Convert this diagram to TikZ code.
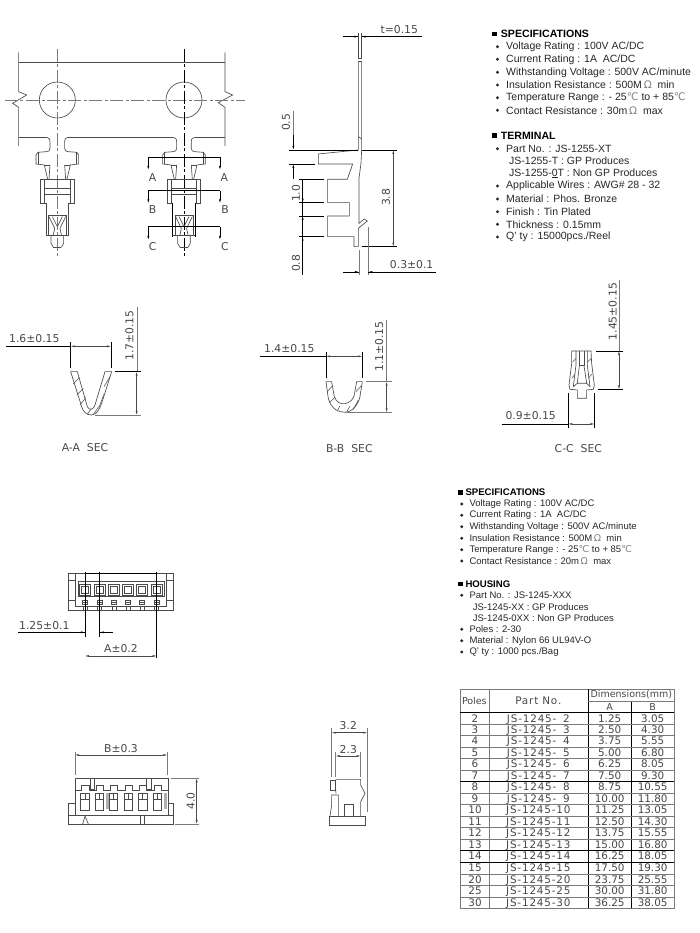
\documentclass[tikz,border=0pt]{standalone}
\usepackage{fontspec}
\setmainfont{Liberation Sans}
\newfontfamily\cadfont{DejaVu Sans}
\newfontfamily\cadwide[LetterSpace=8]{DejaVu Sans}
\usepackage{tikz}
\usetikzlibrary{arrows.meta}

\definecolor{ink}{HTML}{262626}
\definecolor{partgray}{HTML}{4A4A4A}
\definecolor{dimgray}{HTML}{7A7A7A}
\newcommand{\degc}{\textcolor{gray}{{\cadfont ℃}}}
\newcommand{\ohm}{\textcolor{gray}{{\cadfont Ω}}}

\tikzset{
    part/.style={draw=partgray, line width=0.65pt},
    thinpart/.style={draw=partgray, line width=0.5pt},
    blackline/.style={draw=black, line width=0.65pt},
    extline/.style={draw=dimgray, line width=0.55pt},
    dimline/.style={draw=partgray, line width=0.45pt, {Latex[length=4pt,width=2pt]}-{Latex[length=4pt,width=2pt]}},
    tipline/.style={draw=black, line width=0.6pt, -{Latex[length=4pt,width=2pt]}},
    centerline/.style={line width=0.7pt, dash pattern=on 13pt off 2.5pt on 3pt off 2.5pt},
    dimlabel/.style={inner sep=0pt, text=ink!85, font=\cadfont\fontsize{10.8}{11}\selectfont},
    spechead/.style={anchor=west, inner sep=0pt, text=black, font=\bfseries\fontsize{10.6}{12}\selectfont},
    specitem/.style={anchor=west, inner sep=0pt, text=ink, font=\fontsize{10.5}{12}\selectfont},
    househead/.style={anchor=west, inner sep=0pt, text=black, font=\bfseries\fontsize{9.6}{11}\selectfont},
    houseitem/.style={anchor=west, inner sep=0pt, text=ink, font=\fontsize{9.5}{11}\selectfont},
    bulletmark/.style={circle, fill=ink, inner sep=0pt, minimum size=3.2pt},
    headmark/.style={rectangle, fill=black, inner sep=0pt, minimum width=5.2pt, minimum height=4.6pt},
    cell/.style={inner sep=0pt, text height=7.6pt, text depth=0pt, text=ink!85, font=\cadfont\fontsize{10.4}{11}\selectfont},
    partcell/.style={inner sep=0pt, text height=7.6pt, text depth=0pt, text=ink!85, font=\cadwide\fontsize{10.4}{11}\selectfont},
    headcell/.style={inner sep=0pt, text=ink!85, font=\cadfont\fontsize{9.5}{10}\selectfont},
    tabline/.style={draw=dimgray, line width=0.6pt},
    tabbold/.style={draw=black, line width=0.7pt}
}

\begin{document}
\begin{tikzpicture}[x=1pt, y=-1pt]
    \useasboundingbox (0,0) rectangle (700,933);

    % carrier strip with the two terminals
    \begin{scope}[shift={(0,20)}, scale=0.3333]
        \draw[part] (56,97) -- (56,215) -- (80,225) -- (38,250) -- (56,262) -- (56,378);
        \draw[part] (675,97) -- (675,215) -- (698,225) -- (655,248) -- (675,262) -- (675,378);
        \draw[part] (56,126) -- (675,126);
        \draw[part] (56,352) -- (140,352);
        \draw[part] (204,352) -- (520,352);
        \draw[part] (584,352) -- (675,352);
        \draw[part] (172,240) circle (54);
        \draw[part] (552,240) circle (54);
        \draw[centerline, draw=dimgray] (15,240) -- (735,240);
        \draw[centerline, draw=dimgray] (172,87) -- (172,710);
        \draw[centerline, draw=black] (553,87) -- (553,710);

        \foreach \cx in {172,552} {
            \begin{scope}[shift={(\cx,0)}]
                \foreach \sx in {-1,1} {
                    \begin{scope}[xscale=\sx]
                        \draw[part] (32,352) .. controls (24,352) and (22,358) .. (22,368) -- (22,385) .. controls (22,392) and (26,395) .. (32,395) -- (58,397) -- (64,405) -- (64,432) -- (39,435) -- (29,478);
                        \draw[part] (58,397) -- (58,432);
                        \draw[part] (22,435) -- (25,478);
                        \draw[part] (39,435) -- (22,435);
                        \draw[part] (50,478) -- (50,550) -- (34,550) -- (34,645);
                        \draw[part] (27,585) -- (27,645);
                        \draw[part] (38,478) -- (38,550);
                        \draw[part] (25,590) -- (8,625) -- (12,645);
                        \draw[part] (15,590) -- (0,620);
                        \draw[part] (19,645) -- (19,670) -- (12,682);
                    \end{scope}
                }
                \draw[part] (-50,478) -- (50,478);
                \draw[part] (-50,550) -- (-38,550);
                \draw[part] (38,550) -- (50,550);
                \draw[part] (-38,505) -- (38,505);
                \draw[part] (-38,522) -- (38,522);
                \draw[part] (-27,585) -- (27,585);
                \draw[part] (-34,645) -- (34,645);
                \draw[part] (-12,682) -- (12,682);
            \end{scope}
        }

        % section cuts
        \draw[blackline] (445,412) -- (660,412);
        \draw[blackline] (445,512) -- (660,512);
        \draw[blackline] (445,620) -- (660,620);
        \draw[blackline] (518,550) -- (518,650);
        \draw[blackline] (586,550) -- (586,650);
        \draw[tipline] (445,412) -- (445,450);
        \draw[tipline] (660,412) -- (660,450);
        \draw[tipline] (445,512) -- (445,550);
        \draw[tipline] (660,512) -- (660,550);
        \draw[tipline] (445,620) -- (445,660);
        \draw[tipline] (660,620) -- (660,660);
        \node[dimlabel] (cutal) at (458,472) {A};
        \node[dimlabel] (cutar) at (673,472) {A};
        \node[dimlabel] (cutbl) at (458,570) {B};
        \node[dimlabel] (cutbr) at (675,570) {B};
        \node[dimlabel] (cutcl) at (458,680) {C};
        \node[dimlabel] (cutcr) at (675,680) {C};
    \end{scope}

    % side view of the terminal
    \begin{scope}[shift={(260,15)}, scale=0.3333]
        \draw[part] (295,55) -- (295,130);
        \draw[part] (305,55) -- (305,130);
        \draw[part] (295,130) -- (305,130);
        \draw[part] (295,140) -- (305,140);
        \draw[part] (295,140) -- (295,405) -- (175,417) -- (175,447) -- (278,447) -- (262,493) -- (203,493) -- (203,563) -- (268,563) -- (268,603) -- (203,603) -- (203,665) -- (282,665) -- (282,695) -- (295,695) -- (295,640) -- (322,618) -- (313,612) -- (297,625) -- (297,490) -- (303,445) -- (305,405) -- (305,140);
        \draw[part] (295,365) -- (305,372);

        \draw[blackline] (248,65) -- (295,65);
        \draw[blackline] (305,65) -- (485,65);
        \draw[tipline] (250,65) -- (295,65);
        \draw[tipline] (350,65) -- (305,65);
        \node[dimlabel] (tlabel) at (418,43) {t=0.15};

        \draw[blackline] (88,405) -- (295,405);
        \draw[blackline] (88,447) -- (165,447);
        \draw[extline] (100,288) -- (100,360);
        \draw[tipline] (100,360) -- (100,405);
        \draw[tipline] (100,492) -- (100,447);
        \node[dimlabel, rotate=90] (halflabel) at (78,322) {0.5};

        \draw[blackline] (118,493) -- (192,493);
        \draw[blackline] (118,563) -- (192,563);
        \draw[blackline] (118,603) -- (192,603);
        \draw[blackline] (118,665) -- (192,665);
        \draw[blackline] (128,493) -- (128,780);
        \draw[tipline] (128,535) -- (128,563);
        \draw[tipline] (128,635) -- (128,603);
        \draw[tipline] (128,710) -- (128,665);
        \node[dimlabel, rotate=90] (onelabel) at (108,535) {1.0};
        \node[dimlabel, rotate=90] (eightlabel) at (108,745) {0.8};

        \draw[blackline] (305,405) -- (412,405);
        \draw[blackline] (305,695) -- (412,695);
        \draw[dimline] (400,405) -- (400,695);
        \node[dimlabel, rotate=90] (highlabel) at (378,547) {3.8};

        \draw[extline] (297,705) -- (297,780);
        \draw[extline] (325,635) -- (325,780);
        \draw[blackline] (250,771) -- (297,771);
        \draw[blackline] (325,771) -- (527,771);
        \draw[tipline] (255,771) -- (297,771);
        \draw[tipline] (368,771) -- (325,771);
        \node[dimlabel] (gaplabel) at (455,750) {0.3±0.1};
    \end{scope}

    % terminal text
    \node[headmark] (h1mark) at (494.5,34) {};
    \node[spechead] (h1) at (500.7,34) {SPECIFICATIONS};
    \foreach \k/\ty/\txt in {1/46.7/{Voltage Rating : 100V AC/DC}, 2/59.3/{Current Rating : 1A\ \ AC/DC}, 3/72.3/{Withstanding Voltage : 500V AC/minute}, 4/85/{Insulation Resistance : 500M\,\ohm\ \ min}, 5/97.7/{Temperature Range : - 25\degc\ to + 85\degc}, 6/110.3/{Contact Resistance : 30m\,\ohm\ \ max}} {
        \node[bulletmark] (ab\k) at (497.5,\ty) {};
        \node[specitem] (at\k) at (506,\ty) {\txt};
    }
    \node[headmark] (h2mark) at (494.5,135.7) {};
    \node[spechead] (h2) at (500.7,135.7) {TERMINAL};
    \foreach \k/\ty/\txt in {1/148.7/{Part No. : JS-1255-XT}, 4/186/{Applicable Wires : AWG\# 28 - 32}, 5/199/{Material : Phos. Bronze}, 6/211.7/{Finish : Tin Plated}, 7/224.3/{Thickness : 0.15mm}, 8/237/{Q' ty : 15000pcs./Reel}} {
        \node[bulletmark] (bb\k) at (497.5,\ty) {};
        \node[specitem] (bt\k) at (506,\ty) {\txt};
    }
    \node[specitem] (bt2) at (509,161) {JS-1255-T : GP Produces};
    \node[specitem] (bt3) at (509,173.3) {JS-1255-\underline{0}T : Non GP Produces};

    % A-A section
    \begin{scope}[shift={(0,280)}, scale=0.3333]
        \draw[part] (212,275) -- (245,380) .. controls (250,398) and (262,405) .. (275,405) .. controls (290,405) and (300,385) .. (305,370) -- (335,275) -- (315,275) -- (285,375) .. controls (280,390) and (268,392) .. (262,380) -- (232,275) -- cycle;
        \draw[thinpart] (220,312) -- (238,292);
        \draw[thinpart] (230,345) -- (250,325);
        \draw[thinpart] (240,375) -- (258,352);
        \draw[thinpart] (262,403) -- (272,388);
        \draw[thinpart] (280,404) -- (296,380);
        \draw[thinpart] (296,385) -- (312,342);
        \draw[thinpart] (312,320) -- (330,290);
        \draw[blackline] (212,187) -- (212,263);
        \draw[blackline] (333,187) -- (333,263);
        \draw[blackline] (18,199) -- (212,199);
        \draw[dimline] (212,199) -- (333,199);
        \node[dimlabel] (aawide) at (103,177) {1.6±0.15};
        \draw[extline] (412,80) -- (412,275);
        \draw[blackline] (345,275) -- (422,275);
        \draw[extline] (285,405) -- (422,405);
        \draw[dimline] (410,275) -- (410,405);
        \node[dimlabel, rotate=90] (aahigh) at (388,167) {1.7±0.15};
        \node[dimlabel] (aasec) at (255,503) {A-A\hspace{7pt}SEC};
    \end{scope}

    % B-B section
    \begin{scope}[shift={(0,280)}, scale=0.3333]
        \draw[part] (978,305) -- (985,355) .. controls (992,385) and (1015,397) .. (1035,397) .. controls (1055,397) and (1075,375) .. (1080,350) -- (1087,305) -- (1070,305) -- (1063,345) .. controls (1058,372) and (1015,385) .. (1003,350) -- (995,305) -- cycle;
        \draw[thinpart] (982,335) -- (997,318);
        \draw[thinpart] (988,368) -- (1005,352);
        \draw[thinpart] (1012,392) -- (1020,378);
        \draw[thinpart] (1040,396) -- (1050,378);
        \draw[thinpart] (1060,388) -- (1075,360);
        \draw[thinpart] (1068,335) -- (1084,318);
        \draw[blackline] (978,215) -- (978,295);
        \draw[blackline] (1087,215) -- (1087,295);
        \draw[blackline] (780,229) -- (978,229);
        \draw[dimline] (978,229) -- (1087,229);
        \node[dimlabel] (bbwide) at (868,207) {1.4±0.15};
        \draw[extline] (1160,120) -- (1160,305);
        \draw[extline] (1097,305) -- (1175,305);
        \draw[extline] (1040,397) -- (1175,397);
        \draw[dimline] (1160,305) -- (1160,397);
        \node[dimlabel, rotate=90] (bbhigh) at (1138,200) {1.1±0.15};
        \node[dimlabel] (bbsec) at (1048,505) {B-B\hspace{7pt}SEC};
    \end{scope}

    % C-C section
    \begin{scope}[shift={(490,275)}, scale=0.3333]
        \draw[part] (245,228) -- (245,265) -- (237,330) -- (240,343) -- (262,345) -- (262,370) -- (290,370) -- (290,345) -- (310,343) -- (313,330) -- (305,265) -- (303,228) -- cycle;
        \draw[part] (268,228) -- (268,272) -- (282,272) -- (282,228);
        \draw[part] (258,228) -- (258,270) -- (250,335);
        \draw[part] (292,228) -- (292,270) -- (300,335);
        \draw[part] (250,335) -- (262,325) -- (290,325) -- (300,335);
        \draw[part] (268,272) -- (262,325);
        \draw[part] (282,272) -- (290,325);
        \draw[thinpart] (247,262) -- (258,250);
        \draw[thinpart] (292,262) -- (303,250);
        \draw[thinpart] (245,310) -- (255,298);
        \draw[thinpart] (295,310) -- (305,298);
        \draw[blackline] (235,355) -- (235,458);
        \draw[blackline] (313,355) -- (313,458);
        \draw[blackline] (35,447) -- (235,447);
        \draw[dimline] (235,447) -- (313,447);
        \node[dimlabel] (ccwide) at (122,423) {0.9±0.15};
        \draw[extline] (387,15) -- (387,228);
        \draw[blackline] (318,228) -- (400,228);
        \draw[blackline] (325,343) -- (400,343);
        \draw[dimline] (387,228) -- (387,343);
        \node[dimlabel, rotate=90] (cchigh) at (368,110) {1.45±0.15};
        \node[dimlabel] (ccsec) at (265,520) {C-C\hspace{7pt}SEC};
    \end{scope}

    % housing text
    \node[headmark, minimum width=5pt] (h3mark) at (460,492.3) {};
    \node[househead] (h3) at (465.3,492.3) {SPECIFICATIONS};
    \foreach \k/\ty/\txt in {1/504/{Voltage Rating : 100V AC/DC}, 2/515.3/{Current Rating : 1A\ \ AC/DC}, 3/526.7/{Withstanding Voltage : 500V AC/minute}, 4/538.3/{Insulation Resistance : 500M\,\ohm\ \ min}, 5/549.7/{Temperature Range : - 25\degc\ to + 85\degc}, 6/561/{Contact Resistance : 20m\,\ohm\ \ max}} {
        \node[bulletmark] (cb\k) at (461.7,\ty) {};
        \node[houseitem] (ct\k) at (469.3,\ty) {\txt};
    }
    \node[headmark, minimum width=5pt] (h4mark) at (460,584) {};
    \node[househead] (h4) at (465.3,584) {HOUSING};
    \foreach \k/\ty/\txt in {1/595.3/{Part No. : JS-1245-XXX}, 4/629.3/{Poles : 2-30}, 5/640.7/{Material : Nylon 66 UL94V-O}, 6/652/{Q' ty : 1000 pcs./Bag}} {
        \node[bulletmark] (db\k) at (461.7,\ty) {};
        \node[houseitem] (dt\k) at (469.3,\ty) {\txt};
    }
    \node[houseitem] (dt2) at (472.7,606.7) {JS-1245-XX : GP Produces};
    \node[houseitem] (dt3) at (472.7,618) {JS-1245-0XX : Non GP Produces};

    % housing, top view
    \begin{scope}[shift={(10,560)}, scale=0.3333]
        \draw[part] (175,40) rectangle (490,152);
        \draw[part] (195,40) -- (195,140) -- (470,140) -- (470,40);
        \draw[part] (175,60) -- (195,60);
        \draw[part] (470,60) -- (490,60);
        \draw[part] (175,120) -- (195,120);
        \draw[part] (470,120) -- (490,120);
        \draw[part] (205,65) rectangle (462,110);
        \foreach \cx in {225,269,312,354,396,440} {
            \draw[part] (\cx-17,72) rectangle (\cx+17,106);
            \draw[thinpart] (\cx-11,78) rectangle (\cx+11,100);
            \draw[part] (\cx-8,120) rectangle (\cx+8,134);
            \draw[part] (\cx-8,127) -- (\cx+8,127);
            \draw[part] (\cx-6,140) -- (\cx-6,150);
            \draw[part] (\cx+6,140) -- (\cx+6,150);
        }
        \draw[blackline] (225,40) -- (440,40);
        \draw[blackline] (225,35) -- (225,230);
        \draw[blackline] (269,35) -- (269,230);
        \draw[blackline] (440,35) -- (440,295);
        \draw[blackline] (25,217) -- (225,217);
        \draw[tipline] (200,217) -- (225,217);
        \draw[blackline] (269,217) -- (310,217);
        \draw[tipline] (295,217) -- (269,217);
        \node[dimlabel] (pitchlabel) at (103,198) {1.25±0.1};
        \draw[dimline] (225,288) -- (440,288);
        \node[dimlabel] (alabel) at (333,265) {A±0.2};
    \end{scope}

    % housing, front view
    \begin{scope}[shift={(60,710)}, scale=0.3333]
        \draw[part] (45,205) -- (325,205) -- (325,280) -- (340,280) -- (340,342) -- (25,342) -- (25,280) -- (45,280) -- cycle;
        \draw[thinpart] (25,315) -- (340,315);
        \draw[part] (45,280) -- (45,315);
        \draw[part] (325,280) -- (325,315);
        \draw[part] (45,240) -- (65,240) -- (65,225) -- (88,225) -- (88,240) -- (108,240) -- (108,225) -- (130,225) -- (130,240) -- (150,240) -- (150,225) -- (172,225) -- (172,240) -- (195,240) -- (195,225) -- (217,225) -- (217,240) -- (238,240) -- (238,225) -- (260,225) -- (260,240) -- (282,240) -- (282,225) -- (303,225) -- (303,240) -- (325,240);
        \fill[dimgray!60] (138,250) rectangle (146,298);
        \fill[dimgray!60] (313,250) rectangle (320,298);
        \foreach \cx in {75,118,160,205,248,292} {
            \draw[part] (\cx-13,250) rectangle (\cx+13,300);
            \draw[part] (\cx-13,268) -- (\cx+13,268);
            \draw[thinpart] (\cx,250) -- (\cx,268);
        }
        \draw[part, fill=white] (90,205) rectangle (104,238);
        \draw[part, fill=white] (260,205) rectangle (274,238);
        \draw[part] (68,342) -- (75,318) -- (85,342);
        \draw[part] (242,342) -- (242,315) -- (252,315) -- (252,342);
        \draw[extline] (45,125) -- (45,195);
        \draw[extline] (322,125) -- (322,195);
        \draw[dimline] (45,135) -- (322,135);
        \node[dimlabel] (blabel) at (183,117) {B±0.3};
        \draw[extline] (332,205) -- (418,205);
        \draw[extline] (345,342) -- (418,342);
        \draw[dimline] (410,205) -- (410,342);
        \node[dimlabel, rotate=90] (fourlabel) at (392,273) {4.0};
    \end{scope}

    % housing, side view
    \begin{scope}[shift={(310,710)}, scale=0.3333]
        \draw[part] (57,318) rectangle (165,347);
        \draw[part] (77,208) -- (152,208) -- (152,225) -- (165,250) -- (152,275) -- (152,318);
        \draw[thinpart] (60,210) -- (77,210) -- (77,240) -- (60,240) -- cycle;
        \draw[part] (77,240) -- (78,250);
        \draw[part] (60,318) -- (65,285) -- (65,255) -- (85,255) -- (85,318);
        \draw[part] (103,318) -- (103,283) -- (130,283) -- (130,318);
        \draw[extline] (65,55) -- (65,200);
        \draw[extline] (172,55) -- (172,305);
        \draw[dimline] (65,68) -- (172,68);
        \node[dimlabel] (widelabel) at (115,48) {3.2};
        \draw[extline] (77,125) -- (77,200);
        \draw[extline] (152,125) -- (152,200);
        \draw[dimline] (77,138) -- (152,138);
        \node[dimlabel] (narrowlabel) at (115,118) {2.3};
    \end{scope}

    % dimension table
    \begin{scope}[shift={(455,680)}, scale=0.3333]
        \draw[tabline] (15,27) rectangle (658,685);
        \draw[tabline] (102,27) -- (102,685);
        \draw[tabbold] (400,27) -- (400,685);
        \draw[tabbold] (528,63) -- (528,685);
        \draw[tabline] (400,63) -- (658,63);
        \draw[tabbold] (15,97) -- (658,97);
        \node[headcell] (poleshead) at (58,62) {Poles};
        \node[partcell] (parthead) at (250,62) {Part\hspace{4pt}No.};
        \node[headcell] (dimhead) at (529,44) {Dimensions(mm)};
        \node[headcell] (ahead) at (464,80) {A};
        \node[headcell] (bhead) at (593,80) {B};
        \foreach \k/\ty/\poles/\partno/\adim/\bdim in {
            1/115/2/JS-1245-\hphantom{1}2/1.25/3.05,
            2/149/3/JS-1245-\hphantom{1}3/2.50/4.30,
            3/182/4/JS-1245-\hphantom{1}4/3.75/5.55,
            4/217/5/JS-1245-\hphantom{1}5/5.00/6.80,
            5/252/6/JS-1245-\hphantom{1}6/6.25/8.05,
            6/287/7/JS-1245-\hphantom{1}7/7.50/9.30,
            7/321/8/JS-1245-\hphantom{1}8/8.75/10.55,
            8/356/9/JS-1245-\hphantom{1}9/10.00/11.80,
            9/390/10/JS-1245-10/11.25/13.05,
            10/424/11/JS-1245-11/12.50/14.30,
            11/459/12/JS-1245-12/13.75/15.55,
            12/493/13/JS-1245-13/15.00/16.80,
            13/528/14/JS-1245-14/16.25/18.05,
            14/563/15/JS-1245-15/17.50/19.30,
            15/598/20/JS-1245-20/23.75/25.55,
            16/633/25/JS-1245-25/30.00/31.80,
            17/668/30/JS-1245-30/36.25/38.05} {
            \node[cell] (pole\k) at (60,\ty) {\poles};
            \node[partcell] (code\k) at (250,\ty) {\partno};
            \node[cell] (adim\k) at (464,\ty) {\adim};
            \node[cell] (bdim\k) at (593,\ty) {\bdim};
        }
        \foreach \ry in {132,166,201,236,270,339,374,408,443,478,582,616,651} {
            \draw[tabline] (15,\ry) -- (658,\ry);
        }
        \foreach \ry in {305,512,547} {
            \draw[tabbold] (15,\ry) -- (658,\ry);
        }
    \end{scope}
\end{tikzpicture}
\end{document}
